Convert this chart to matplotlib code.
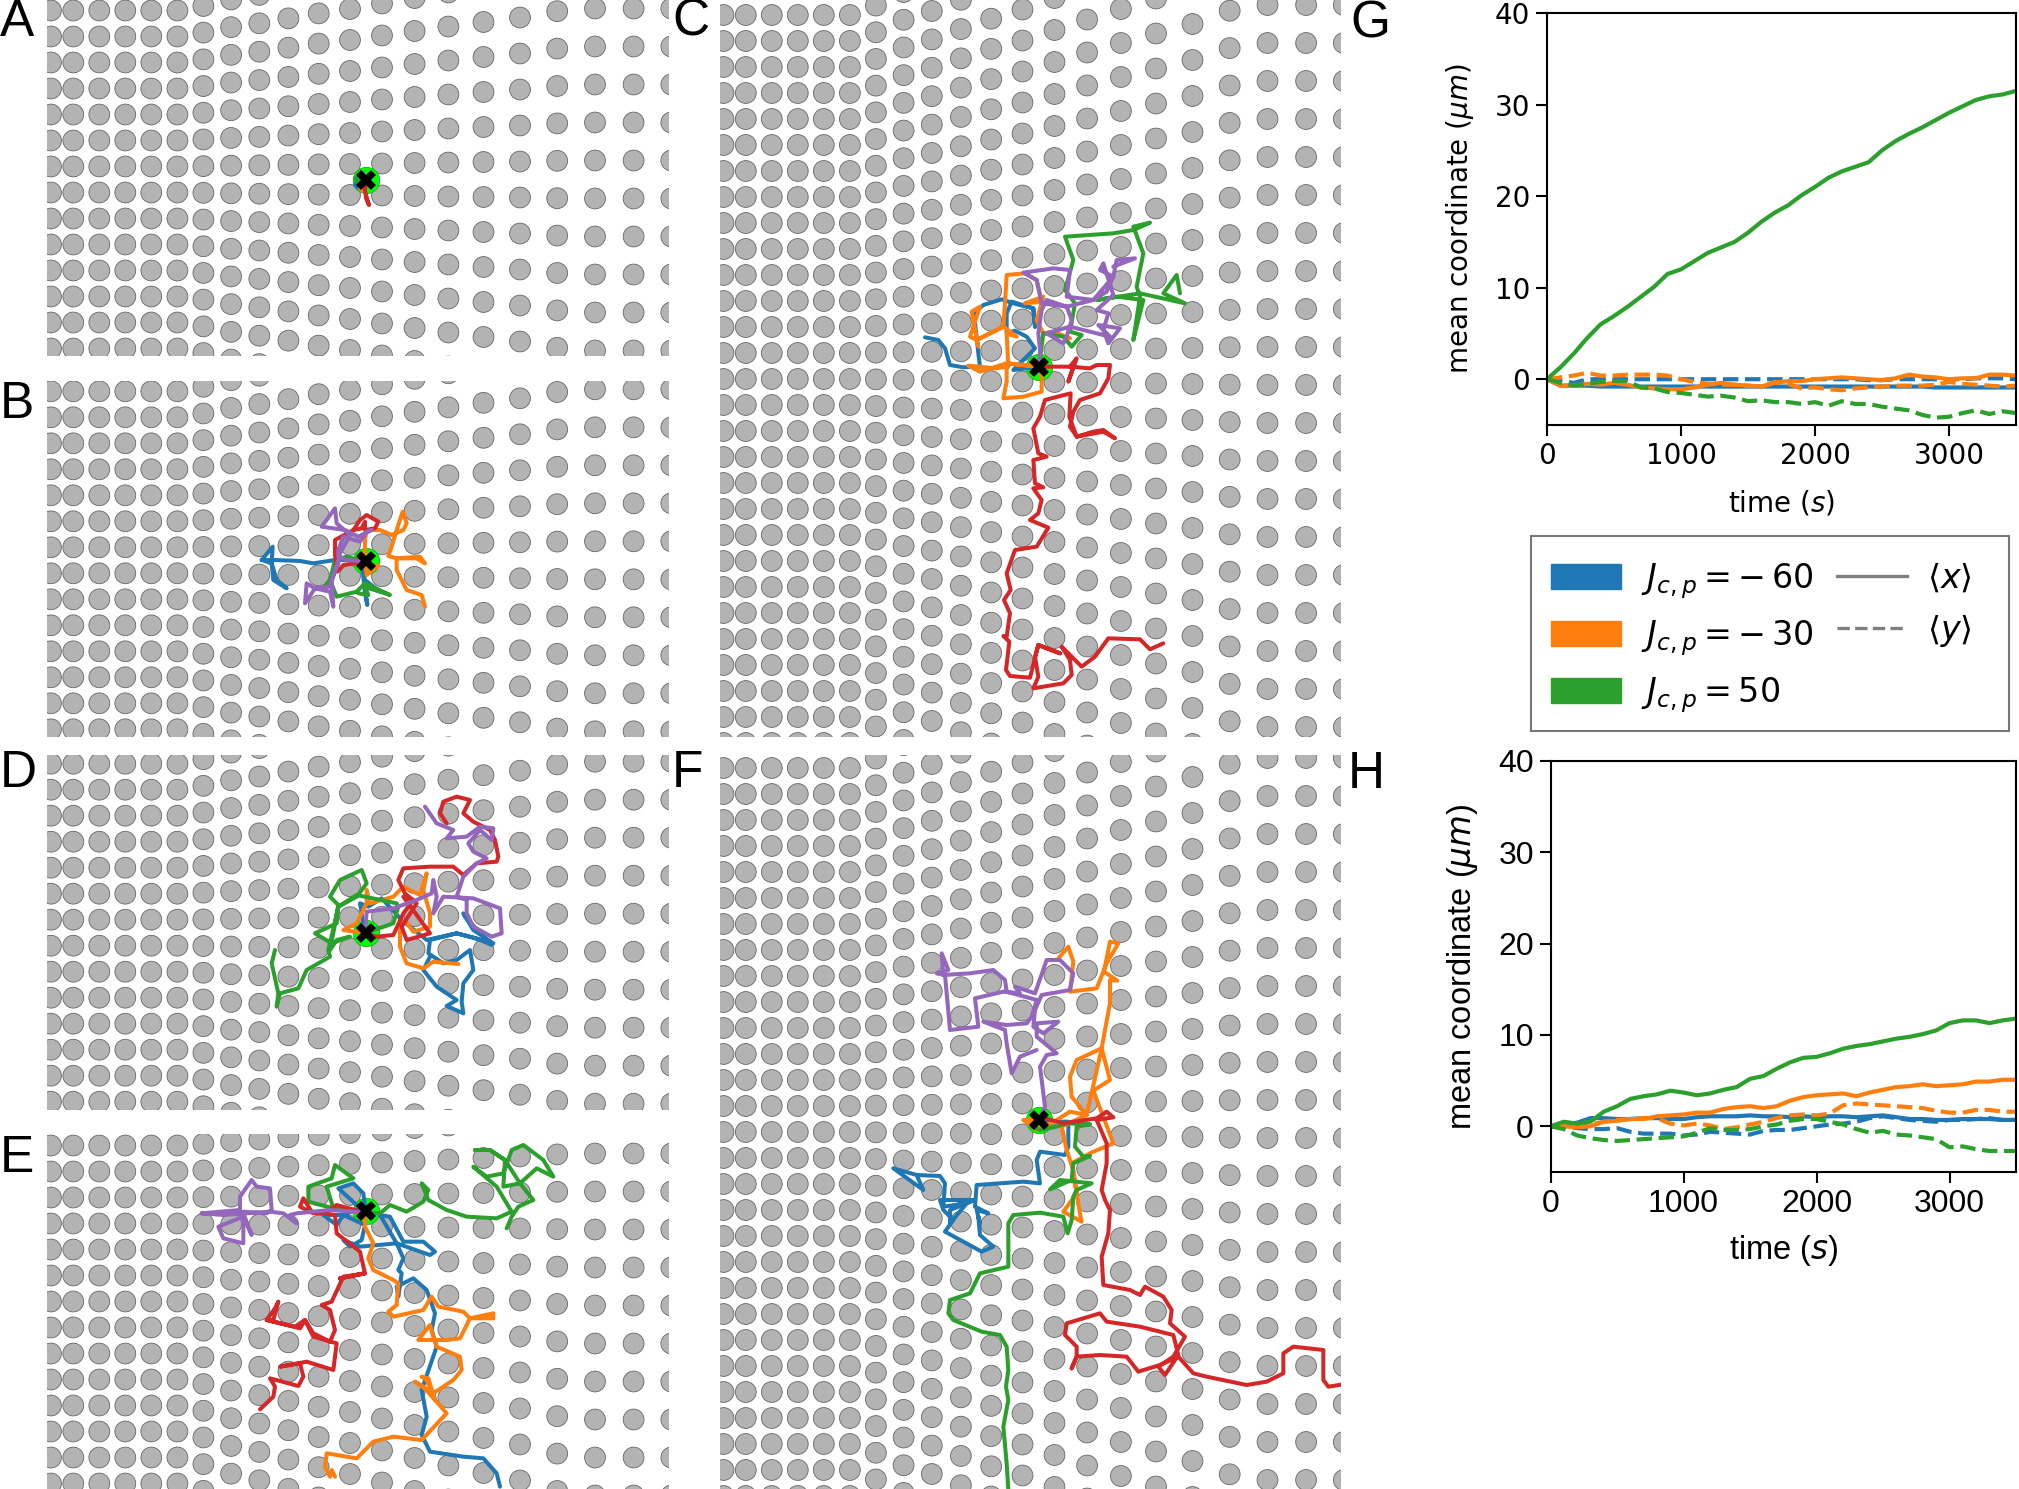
import matplotlib
matplotlib.use("Agg")
import matplotlib.pyplot as plt
from matplotlib.patches import Circle, Patch, Rectangle
from matplotlib.lines import Line2D

W, H = 2019, 1489
BLUE, ORANGE, GREEN, RED, PURPLE = "#1f77b4", "#ff7f0e", "#2ca02c", "#d62728", "#9467bd"

# pillar lattice: column offset from the centre, and row pitch of that column
col_offset = [-315, -292.7, -266.7, -240.7, -214.7, -188.6, -162.6, -134.9, -106.7, -77.6, -47.3, -16,
              16, 48.6, 82.4, 117.5, 154, 191.2, 229, 267.6, 305.3]
col_pitch = [26, 26, 26, 26, 26, 26, 26.7, 27.7, 28.4, 29.3, 30.2, 31,
             32, 33, 34, 35, 36, 37.4, 38, 38, 38]

# panel bounds (x0, y0, x1, y1) and lattice centre
panels = {
    "A": ((47, 0, 669, 356), (366, 179.5)),
    "B": ((47, 381, 669, 737), (366, 560.3)),
    "C": ((720, 0, 1341, 737), (1038.5, 366)),
    "D": ((47, 755, 669, 1110), (366, 932.7)),
    "E": ((47, 1134, 669, 1489), (366, 1210.5)),
    "F": ((720, 755, 1341, 1489), (1038.5, 1119)),
}

# trajectories, read as (origin of the reading window, points at 3x)
o_a, o_b, o_c1, o_c2 = (366, 180), (250, 480), (900, 200), (980, 350)
o_d, o_e1, o_e2, o_f1, o_f2 = (260, 780), (190, 1130), (250, 1250), (880, 930), (900, 1200)

A_blue = [(o_a, [(0, 0), (-27, 6), (-33, 15), (-24, 24), (0, 0)])]
A_orange = [(o_a, [(0, 0), (-18, 24), (-9, 33), (0, 18)])]
A_green = [(o_a, [(0, 0), (-33, -6), (-24, 6), (0, 0)])]
A_red = [(o_a, [(0, 0), (-3, 30), (0, 54), (6, 69), (9, 75), (0, 45)])]
A_purple = [(o_a, [(0, 0), (-12, -24), (-6, -9)])]

B_blue = [(o_b, [(345, 245), (340, 290), (345, 340), (352, 375), (345, 320), (390, 335), (345, 300), (330, 240),
                 (255, 240), (190, 250), (150, 243), (75, 240), (35, 240), (68, 200), (65, 250), (70, 300),
                 (110, 325), (80, 300), (65, 250), (35, 240)])]
B_orange = [(o_b, [(345, 245), (375, 265), (385, 255), (350, 285), (345, 245), (345, 180), (350, 150), (390, 150),
                   (425, 165), (460, 150), (470, 130), (458, 95), (440, 150), (425, 200), (415, 228), (440, 235),
                   (500, 235), (525, 250), (510, 230), (440, 235), (440, 270), (470, 330), (515, 345), (525, 380)])]
B_green = [(o_b, [(345, 245), (290, 230), (255, 240), (240, 300), (225, 320), (240, 300), (260, 350), (320, 335),
                  (345, 310), (420, 345), (345, 320), (355, 345), (325, 340)])]
B_red = [(o_b, [(345, 245), (280, 255), (262, 275), (255, 225), (255, 180), (310, 150), (330, 120), (350, 105),
                (385, 125), (375, 145), (345, 150), (345, 125), (335, 145), (310, 150)])]
B_purple = [(o_b, [(345, 245), (290, 240), (265, 230), (265, 210), (280, 170), (330, 185), (350, 155), (365, 150),
                   (325, 170), (285, 150), (215, 140), (255, 85), (260, 130), (300, 165), (270, 220), (265, 250),
                   (245, 300), (250, 380), (240, 335), (195, 325), (170, 310), (165, 370), (195, 325), (240, 320),
                   (265, 240)])]

C_blue = [(o_c1, [(417, 500), (340, 510), (405, 445), (380, 410), (345, 392), (320, 400), (320, 340), (335, 305),
                  (400, 325), (405, 380), (400, 325), (340, 310), (305, 298), (250, 315), (222, 340), (235, 460),
                  (240, 500), (190, 502), (150, 495), (135, 445), (115, 420), (75, 412)])]
C_orange = [(o_c1, [(417, 500), (365, 495), (320, 490), (320, 545), (310, 595), (370, 590), (425, 575), (425, 530),
                    (420, 500), (320, 490), (240, 515), (205, 497), (285, 505), (325, 500), (320, 400), (350, 410),
                    (310, 380), (230, 420), (210, 410), (240, 320), (215, 335), (235, 440), (230, 420), (310, 380),
                    (315, 310), (320, 225), (375, 220), (410, 240), (425, 305), (375, 310), (430, 290), (410, 360),
                    (430, 400), (460, 395), (510, 415)])]
C_green = [(o_c1, [(417, 500), (430, 400), (490, 410), (515, 440), (545, 405), (510, 395), (525, 310), (495, 270),
                   (520, 180), (495, 110), (640, 100), (700, 90), (750, 68), (700, 80), (730, 160), (710, 260),
                   (720, 290), (700, 420), (730, 300), (650, 290), (590, 300), (720, 280), (855, 310), (790, 280),
                   (830, 225), (840, 280)])]
C_red = [(o_c2, [(175, 50), (280, 50), (265, 95), (290, 25), (270, 50), (330, 55), (350, 45), (390, 45), (385, 85),
                 (360, 130), (300, 150), (280, 185), (270, 230), (290, 260), (340, 245), (370, 240), (405, 265),
                 (370, 245), (290, 260), (268, 200), (272, 130), (195, 150), (180, 200), (160, 235), (175, 310),
                 (200, 320), (160, 330), (165, 400), (190, 412), (160, 415), (185, 450), (175, 490), (150, 510),
                 (205, 533), (170, 590), (105, 600), (80, 670), (92, 720), (72, 750), (90, 790), (80, 860), (70, 858),
                 (88, 875), (78, 960), (90, 978), (150, 983), (175, 885), (240, 910), (175, 885), (165, 920),
                 (175, 980), (160, 1015), (250, 1000), (275, 975), (270, 930), (245, 890), (305, 950), (345, 920),
                 (385, 865), (480, 868), (510, 898), (550, 880)])]
C_purple = [(o_c1, [(417, 500), (420, 450), (415, 400), (425, 330), (440, 300), (500, 320), (515, 360), (500, 410),
                    (490, 430), (440, 400), (510, 380), (530, 385), (630, 410), (595, 375), (660, 385), (625, 430),
                    (610, 390), (625, 340), (590, 330), (640, 285), (610, 190), (600, 210), (640, 230), (620, 275),
                    (580, 300), (500, 290), (510, 210), (460, 205), (370, 218), (410, 240), (425, 310), (500, 320),
                    (580, 300), (640, 230), (650, 180), (705, 175), (640, 200)])]

D_blue = [(o_d, [(315, 460), (300, 370), (325, 380), (365, 355), (425, 420), (500, 480), (590, 460), (650, 475),
                 (695, 495), (615, 410), (610, 400), (640, 450), (700, 490), (590, 460), (510, 480), (505, 520),
                 (550, 550), (590, 540), (630, 510), (640, 570), (610, 610), (605, 665), (610, 700), (560, 678),
                 (590, 660), (530, 620), (490, 570), (510, 530)])]
D_orange = [(o_d, [(315, 460), (250, 450), (290, 430), (320, 370), (320, 330), (330, 370), (400, 350), (430, 320),
                   (480, 345), (500, 280), (490, 330), (510, 400), (510, 440), (460, 455), (435, 420), (420, 440),
                   (420, 500), (440, 550), (490, 565), (520, 545), (595, 552)])]
D_green = [(o_d, [(315, 460), (400, 430), (415, 380), (410, 370), (290, 345), (235, 380), (230, 430), (165, 460),
                  (215, 490), (270, 470), (230, 480), (210, 510), (235, 380), (290, 350), (320, 310), (305, 270),
                  (240, 300), (210, 350), (235, 375), (225, 425), (205, 510), (210, 530), (140, 570), (115, 625),
                  (60, 640), (50, 680), (55, 640), (35, 550), (45, 510)])]
D_red = [(o_d, [(315, 460), (350, 470), (400, 465), (430, 400), (460, 360), (430, 350), (510, 460), (440, 480),
                (425, 440), (470, 370), (435, 340), (415, 300), (430, 265), (510, 260), (580, 260), (610, 285),
                (650, 250), (710, 245), (715, 230), (705, 180), (690, 150), (640, 125), (610, 100), (630, 60),
                (590, 50), (550, 65), (540, 100), (560, 130)])]
D_purple = [(o_d, [(315, 460), (320, 395), (400, 385), (470, 360), (515, 340), (520, 300), (530, 350), (520, 400),
                   (550, 350), (640, 355), (720, 385), (725, 460), (695, 470), (640, 440), (620, 400), (620, 360),
                   (590, 350), (610, 290), (650, 250), (680, 235), (640, 215), (625, 190), (660, 150), (695, 180),
                   (700, 145), (660, 140), (620, 170), (560, 175), (580, 150), (530, 130), (495, 80)])]

E_blue = [(o_e1, [(525, 248), (445, 175), (490, 160), (520, 190), (525, 230), (460, 255), (440, 285), (400, 255),
                  (460, 255), (525, 285), (515, 330), (480, 350), (460, 330), (510, 350), (620, 340), (720, 375),
                  (735, 365), (700, 335), (640, 335), (600, 260), (570, 255), (620, 340), (640, 385), (625, 420)]),
          (o_e2, [(445, 60), (455, 70), (445, 140), (440, 110), (490, 85), (530, 120), (555, 190), (545, 240),
                  (560, 290), (515, 420), (530, 500), (515, 555), (540, 605), (640, 620), (700, 625), (740, 670),
                  (750, 710)])]
E_orange = [(o_e1, [(525, 248), (525, 290), (550, 340), (535, 385), (550, 420), (610, 450)]),
            (o_e2, [(430, 90), (445, 100), (440, 165), (415, 185), (430, 200), (520, 180), (545, 140), (565, 170),
                    (640, 185), (660, 205), (730, 190), (730, 205), (660, 205), (630, 265), (590, 270), (505, 270),
                    (540, 225), (550, 260), (560, 290), (630, 320), (635, 360), (610, 390), (550, 430), (555, 450),
                    (535, 385), (515, 380), (530, 390), (545, 430), (495, 395), (520, 410), (590, 490), (515, 570),
                    (430, 560), (370, 575), (320, 625), (230, 610), (225, 650), (240, 680), (245, 660), (255, 680)])]
E_green = [(o_e1, [(525, 248), (430, 235), (410, 170), (490, 145), (435, 105), (425, 145), (355, 170), (355, 215),
                   (430, 235), (525, 248), (570, 250), (600, 225), (650, 245), (700, 215), (715, 180), (695, 160),
                   (715, 210), (770, 240), (830, 260), (920, 265), (965, 245), (920, 170), (850, 110), (890, 140),
                   (940, 130), (965, 60), (1000, 45), (1060, 90), (1090, 140), (1040, 115), (990, 160), (940, 170),
                   (945, 90), (900, 60), (855, 60), (900, 60), (945, 90), (990, 160), (1030, 210), (985, 230),
                   (965, 260), (950, 295)])]
E_red = [(o_e1, [(525, 248), (440, 225), (420, 240), (370, 250), (330, 230), (340, 205), (365, 245), (435, 255),
                 (440, 310), (510, 365), (525, 430), (450, 445)]),
         (o_e2, [(345, 70), (280, 80), (245, 155), (215, 165), (240, 180), (255, 240), (240, 275), (190, 250),
                 (165, 210), (150, 235), (50, 210), (75, 175), (85, 155), (70, 210), (50, 210), (135, 230), (165, 210),
                 (190, 260), (260, 280), (250, 360), (170, 335), (90, 350), (150, 340), (160, 380), (145, 408),
                 (60, 385), (75, 410), (70, 440), (30, 478)])]
E_purple = [(o_e1, [(525, 248), (420, 240), (320, 250), (300, 255), (320, 280), (280, 250), (240, 245), (100, 255),
                    (35, 250), (150, 240), (150, 200), (185, 150), (200, 170), (240, 175), (245, 240), (230, 250),
                    (160, 245), (160, 340), (100, 325), (85, 290), (160, 260), (185, 315), (160, 250), (35, 250)])]

F_blue = [(o_f1, [(477, 570), (530, 575), (565, 575), (565, 650), (555, 675), (480, 665), (470, 690), (480, 760),
                  (430, 755), (290, 765), (285, 830), (325, 850), (290, 840), (300, 880)]),
          (o_f2, [(235, 50), (240, 105), (280, 140), (245, 155), (135, 95), (160, 60), (130, 30), (120, 0), (225, 0),
                  (150, 30), (150, 70), (200, 10)]),
          (o_f1, [(190, 830), (195, 760), (180, 738), (110, 735), (40, 715), (130, 780), (110, 735)])]
F_orange = [(o_f1, [(477, 570), (430, 570), (470, 600), (530, 570), (570, 545), (620, 555), (545, 590), (560, 660),
                    (580, 720), (590, 790), (550, 845), (605, 875), (600, 850), (575, 700), (640, 665), (700, 640),
                    (640, 482), (690, 450), (665, 355), (590, 390), (570, 440), (575, 500), (620, 555), (665, 355),
                    (675, 300), (690, 220), (690, 150), (712, 152), (672, 125), (690, 35), (715, 40), (680, 100),
                    (650, 175), (570, 185), (580, 95), (565, 50), (535, 85)])]
F_green = [(o_f1, [(477, 570), (455, 590), (480, 600), (530, 590), (560, 580), (630, 583), (590, 590), (585, 650),
                   (610, 680), (630, 678), (580, 700), (575, 750), (510, 778), (540, 750), (635, 760), (590, 780),
                   (580, 800), (575, 870), (563, 910), (550, 860), (480, 848), (400, 855), (385, 880)]),
           (o_f2, [(325, 200), (240, 220), (210, 280), (150, 300), (145, 340), (160, 360), (245, 395), (300, 405),
                   (320, 440), (325, 510), (318, 560), (325, 600), (310, 680), (320, 790), (325, 870)])]
F_red = [(o_f1, [(477, 570), (495, 565), (550, 580), (650, 565), (680, 545), (700, 562), (650, 570), (680, 640),
                 (680, 700), (665, 780)]),
         (o_f2, [(615, 0), (630, 30), (625, 100), (605, 170), (610, 255), (690, 270), (720, 285), (735, 260),
                 (790, 290), (815, 330), (810, 370), (855, 410), (820, 470), (775, 500), (795, 525), (835, 465),
                 (820, 405), (720, 380), (620, 365), (600, 340), (500, 370), (495, 405), (530, 440), (530, 470),
                 (515, 505), (530, 470), (600, 465), (680, 470), (715, 515), (780, 495), (835, 470), (880, 520),
                 (920, 530), (1040, 555), (1100, 545), (1150, 520), (1150, 460), (1180, 440), (1270, 450), (1270, 540),
                 (1285, 560), (1330, 553)])]
F_purple = [(o_f1, [(477, 570), (495, 530), (480, 410), (500, 375), (530, 370), (470, 320), (470, 280), (535, 275),
                    (490, 310), (460, 290), (465, 240), (485, 195), (570, 180), (580, 130), (540, 90), (500, 90),
                    (465, 190), (405, 170), (420, 190), (370, 185), (285, 205), (295, 290), (210, 300), (195, 135),
                    (170, 130), (205, 120), (185, 70), (190, 135), (270, 130), (340, 120), (375, 150), (380, 185),
                    (470, 210), (455, 260), (440, 280), (380, 285), (310, 275), (375, 300), (380, 340), (395, 430),
                    (420, 380), (470, 360)])]

tracks = {
    "A": [(A_blue, BLUE), (A_orange, ORANGE), (A_green, GREEN), (A_red, RED), (A_purple, PURPLE)],
    "B": [(B_blue, BLUE), (B_orange, ORANGE), (B_green, GREEN), (B_red, RED), (B_purple, PURPLE)],
    "C": [(C_blue, BLUE), (C_orange, ORANGE), (C_green, GREEN), (C_red, RED), (C_purple, PURPLE)],
    "D": [(D_blue, BLUE), (D_orange, ORANGE), (D_green, GREEN), (D_red, RED), (D_purple, PURPLE)],
    "E": [(E_blue, BLUE), (E_orange, ORANGE), (E_green, GREEN), (E_red, RED), (E_purple, PURPLE)],
    "F": [(F_blue, BLUE), (F_orange, ORANGE), (F_green, GREEN), (F_red, RED), (F_purple, PURPLE)],
}

# mean coordinate curves
time_s = list(range(0, 3600, 100))
g_x_blue = [0, -0.7, -0.7, -0.7, -0.8, -0.8, -0.8, -0.8, -0.8, -0.8, -0.8, -0.8, -0.8, -0.8, -0.8, -0.8, -0.8, -0.8,
            -0.8, -0.8, -0.8, -0.8, -0.8, -0.8, -0.8, -0.8, -0.8, -0.8, -0.8, -0.9, -0.9, -0.9, -0.9, -0.9, -0.9, -0.9]
g_y_blue = [0, -0.2, -0.4, 0, 0, 0, 0, 0, 0, 0, 0, 0, 0, 0, 0, 0, 0, 0, 0, 0, 0, 0, 0, 0,
            -0.1, -0.1, 0, 0, 0, 0, 0, 0, 0.1, 0.1, 0.1, 0]
g_x_orange = [0, -0.7, -0.7, -0.5, -0.6, -0.4, -0.6, -0.9, -1, -1.1, -1.1, -0.9, -0.6, -0.4, -0.6, -0.7, -0.8, -0.4,
              -0.2, -0.2, 0, 0.1, 0.2, 0.1, 0, -0.1, 0.1, 0.5, 0.3, 0.2, 0, 0.1, 0.1, 0.5, 0.5, 0.4]
g_y_orange = [0, 0.2, 0.4, 0.7, 0.4, 0.4, 0.5, 0.5, 0.5, 0.4, 0, -0.3, -0.5, -0.6, -0.6, -0.7, -0.8, -0.3,
              -0.5, -1, -0.9, -1.1, -1.2, -1, -0.9, -0.8, -0.7, -0.7, -0.7, -0.6, -0.3, -0.5, -0.6, -0.7, -0.8, -0.7]
g_x_green = [0, 1.3, 2.8, 4.5, 6, 6.9, 7.9, 9, 10.1, 11.5, 12, 12.9, 13.8, 14.4, 15, 16, 17.2, 18.2,
             19, 20.1, 21, 22, 22.7, 23.2, 23.7, 25, 26, 26.8, 27.5, 28.3, 29.1, 29.8, 30.5, 30.9, 31.1, 31.5]
g_y_green = [0, -0.4, -0.7, -0.5, -0.3, -0.2, -0.2, -0.9, -1, -1.4, -1.5, -1.7, -1.9, -1.8, -2, -2.4, -2.3, -2.5,
             -2.5, -2.7, -2.5, -2.9, -2.4, -2.7, -2.7, -3, -3.2, -3.4, -3.9, -4.2, -4.1, -3.7, -3.4, -3.8, -3.5, -3.7]
h_x_blue = [0, 0.2, 0.4, 0.9, 0.9, 0.8, 0.8, 0.9, 0.9, 0.8, 0.8, 1, 1.1, 1.1, 1.1, 1.2, 1.1, 1.1,
            1, 1.1, 1, 1.1, 1.1, 1, 1.1, 1.2, 1, 0.8, 0.8, 0.7, 0.7, 0.8, 0.8, 0.8, 0.7, 0.7]
h_y_blue = [0, 0, -0.2, -0.3, -0.3, -0.2, -0.6, -0.8, -0.8, -0.8, -1, -0.9, -0.6, -0.7, -0.8, -0.9, -0.5, -0.4,
            -0.4, -0.2, 0, 0.2, 0.3, 0.5, 0.9, 1.1, 0.9, 0.7, 0.6, 0.5, 0.7, 0.7, 0.8, 0.9, 0.7, 0.7]
h_x_orange = [0, 0, -0.1, 0, 0.5, 0.6, 0.8, 0.8, 1.1, 1.2, 1.3, 1.5, 1.5, 1.9, 2.1, 2.2, 2, 2.2,
              2.8, 3.2, 3.4, 3.5, 3.6, 3.3, 3.7, 4, 4.3, 4.4, 4.6, 4.4, 4.5, 4.6, 4.9, 4.9, 5.1, 5.1]
h_y_orange = [0, 0.1, 0, 0.2, 0.5, 0.7, 0.8, 0.9, 0.9, 0.3, 0.1, 0.3, 0.1, -0.3, -0.1, 0.2, 0.5, 0.9,
              1.2, 1.3, 1.2, 1.4, 2.3, 2.5, 2.4, 2.3, 2.2, 2.1, 2, 1.7, 1.5, 1.5, 1.8, 1.8, 1.6, 1.6]
h_x_green = [0, 0.5, 0.3, 0.5, 1.6, 2.2, 3, 3.3, 3.5, 3.9, 3.7, 3.4, 3.6, 4, 4.3, 5.2, 5.5, 6.3,
             7, 7.5, 7.6, 8, 8.5, 8.8, 9, 9.3, 9.6, 9.8, 10.1, 10.5, 11.3, 11.6, 11.6, 11.3, 11.6, 11.8]
h_y_green = [0, -0.3, -1, -1.3, -1.5, -1.6, -1.5, -1.4, -1.3, -1.2, -1.1, -0.7, -0.2, -0.4, -0.4, -0.3, 0, 0.2,
             0.6, 0.8, 0.8, 0.5, 0.2, -0.3, -0.7, -0.5, -0.9, -1, -1.2, -1.4, -2.3, -2.2, -2.5, -2.7, -2.7, -2.7]

x_ticks = [0, 1000, 2000, 3000]
y_ticks = [0, 10, 20, 30, 40]
legend_labels = [r"$J_{c,p} = -\,60$", r"$J_{c,p} = -\,30$", r"$J_{c,p} = 50$"]
letter_pos = {"A": (0, 36), "B": (0, 418), "C": (672, 36), "D": (0, 787), "E": (0, 1172), "F": (672, 787),
              "G": (1350, 38), "H": (1348, 788)}

fig = plt.figure(figsize=(W / 100, H / 100), dpi=100, facecolor="white")


def px_axes(x0, y0, x1, y1):
    return fig.add_axes([x0 / W, 1 - y1 / H, (x1 - x0) / W, (y1 - y0) / H])


for name, ((x0, y0, x1, y1), (cx, cy)) in panels.items():
    ax = px_axes(x0, y0, x1, y1)
    ax.set_xlim(x0 - cx, x1 - cx)
    ax.set_ylim(y1 - cy, y0 - cy)
    ax.axis("off")
    for dx, pitch in zip(col_offset, col_pitch):
        for k in range(-16, 16):
            ax.add_patch(Circle((dx, (k + 0.5) * pitch), 10.4, facecolor="#b3b3b3",
                                edgecolor="#666666", linewidth=0.6, zorder=1))
    ax.plot([0], [0.7], "o", ms=19, mfc="#00ff00", mec="#00aa00", mew=0.5, zorder=2)
    for segs, color in tracks[name]:
        xs, ys = [], []
        for (ox, oy), pts in segs:
            for px_, py_ in pts:
                xs.append(px_ / 3 + ox - cx)
                ys.append(py_ / 3 + oy - cy)
        ax.plot(xs, ys, color=color, lw=2.9, solid_joinstyle="round", solid_capstyle="round", zorder=3)
    ax.plot([0], [0.7], "X", ms=15, mfc="black", mec="black", mew=0, zorder=5)


def curve_axes(box, font, tick_size, label_size, label_x, curves):
    ax = px_axes(*box)
    for y, color, style in curves:
        ax.plot(time_s, y, color=color, ls=style, lw=3.0)
    ax.set_xlim(0, 3500)
    ax.set_ylim(-5, 40)
    ax.set_xticks(x_ticks)
    ax.set_yticks(y_ticks)
    ax.tick_params(length=8, width=1.5, labelsize=tick_size, pad=4)
    for lab in ax.get_xticklabels() + ax.get_yticklabels():
        lab.set_family(font)
    for s in ax.spines.values():
        s.set_linewidth(1.5)
    ax.set_xlabel(r"time ($s$)", fontsize=label_size, family=font)
    ax.xaxis.set_label_coords(0.5, -0.19)
    ax.xaxis.label.set_va("center")
    ax.set_ylabel(r"mean coordinate ($\mu m$)", fontsize=label_size, family=font)
    ax.yaxis.set_label_coords(label_x, 0.5)
    ax.yaxis.label.set_va("center")
    return ax


curve_axes((1547, 13, 2016, 425), "DejaVu Sans", 20, 20, -0.186, [
    (g_x_blue, BLUE, "-"), (g_y_blue, BLUE, "--"), (g_x_orange, ORANGE, "-"), (g_y_orange, ORANGE, "--"),
    (g_x_green, GREEN, "-"), (g_y_green, GREEN, "--")])
curve_axes((1550.5, 761, 2016, 1172), "Liberation Sans", 23, 23.5, -0.188, [
    (h_x_blue, BLUE, "-"), (h_y_blue, BLUE, "--"), (h_x_orange, ORANGE, "-"), (h_y_orange, ORANGE, "--"),
    (h_x_green, GREEN, "-"), (h_y_green, GREEN, "--")])

# legend frame, then a frameless legend inside it
fig.add_artist(Rectangle((1531 / W, 1 - 731 / H), 478 / W, 195 / H, transform=fig.transFigure,
                         facecolor="white", edgecolor="#777777", linewidth=1.5))
handles = [Patch(color=BLUE), Patch(color=ORANGE), Patch(color=GREEN),
           Line2D([], [], color="#7f7f7f", lw=2.4), Line2D([], [], color="#7f7f7f", lw=2.4, ls="--")]
labels = legend_labels + [r"$\langle x \rangle$", r"$\langle y \rangle$"]
fig.legend(handles, labels, ncol=2, fontsize=24, loc="upper left",
           bbox_to_anchor=(1551 / W, 1 - 561 / H), borderaxespad=0, frameon=False,
           handlelength=2.1, handleheight=0.78, labelspacing=0.52, handletextpad=0.6,
           columnspacing=0.7, borderpad=0)

for letter, (x, y) in letter_pos.items():
    fig.text(x / W, 1 - y / H, letter, fontsize=37, family="Liberation Sans", va="baseline", ha="left")

fig.savefig("out.png", dpi=100)
